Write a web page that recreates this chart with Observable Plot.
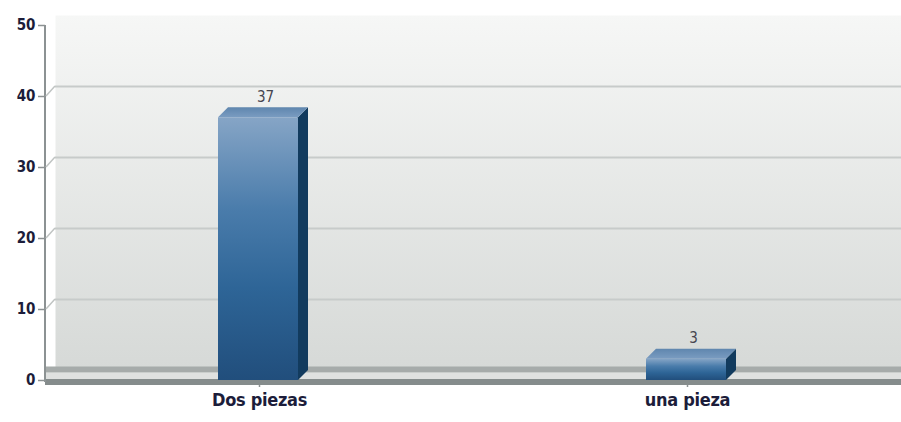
<!DOCTYPE html>
<html><head><meta charset="utf-8">
<script src="https://cdn.jsdelivr.net/npm/d3@7"></script>
<script src="https://cdn.jsdelivr.net/npm/@observablehq/plot@0.6"></script>
<style>
body{margin:0;background:#fff}
svg{display:block}
</style>
</head><body><div id="chart"></div>
<script>
const categories = ["Dos piezas", "una pieza"];
const values = [37, 3];
const yTicks = [0, 10, 20, 30, 40, 50];

const data = categories.map((c, i) => ({category: c, value: values[i]}));
const D = 10;          // 3D depth in px
const INSET_L = 173, INSET_R = 175;
const FONT = "'Liberation Sans Narrow','DejaVu Sans Condensed','Liberation Sans',sans-serif";
const gridTicks = yTicks.filter(t => t > 0 && t < 50);

const chart = Plot.plot({
  width: 901, height: 422,
  marginLeft: 45, marginRight: 0, marginTop: 25, marginBottom: 42,
  style: {background: "transparent", fontFamily: FONT, overflow: "visible"},
  x: {domain: categories, padding: 0, label: null, tickSize: 7, tickPadding: 6},
  y: {domain: [0, 50], ticks: yTicks, label: null, tickSize: 7, tickPadding: 3},
  marks: [
    Plot.frame({fill: "url(#bgGrad)", stroke: "none", strokeOpacity: 0, dx: D, dy: -D}),
    Plot.ruleY(gridTicks, {dx: D, dy: -D, stroke: "#c7cbca", strokeWidth: 2}),
    Plot.ruleY([0], {dy: -4, stroke: "#dfe1e0", strokeWidth: 8}),
    Plot.ruleY([0], {dy: -D - 1, stroke: "#a6abaa", strokeWidth: 6}),
    Plot.ruleY([0], {dy: 1.5, stroke: "#858c8c", strokeWidth: 6}),
    Plot.barY(data, {x: "category", y: "value", fill: "url(#barGrad)", insetLeft: INSET_L, insetRight: INSET_R}),
    Plot.text(data, {x: "category", y: "value", text: d => String(d.value), dx: 6, dy: -D - 6,
      lineAnchor: "bottom", fill: "#45454f", fontSize: 15, stroke: "none"})
  ]
});

const svg = d3.select(chart.tagName.toLowerCase() === "svg" ? chart : chart.querySelector("svg"));
const defs = svg.insert("defs", ":first-child");
const bg = defs.append("linearGradient").attr("id", "bgGrad").attr("x1", 0).attr("y1", 0).attr("x2", 0).attr("y2", 1);
bg.append("stop").attr("offset", "0%").attr("stop-color", "#f6f7f6");
bg.append("stop").attr("offset", "100%").attr("stop-color", "#d6d9d7");
const bgr = defs.append("linearGradient").attr("id", "barGrad").attr("x1", 0).attr("y1", 0).attr("x2", 0).attr("y2", 1);
bgr.append("stop").attr("offset", "0%").attr("stop-color", "#86a5c6");
bgr.append("stop").attr("offset", "35%").attr("stop-color", "#4a7cab");
bgr.append("stop").attr("offset", "65%").attr("stop-color", "#2e6597");
bgr.append("stop").attr("offset", "100%").attr("stop-color", "#214e7c");
const tg = defs.append("linearGradient").attr("id", "topGrad").attr("x1", 0).attr("y1", 0).attr("x2", 0).attr("y2", 1);
tg.append("stop").attr("offset", "0%").attr("stop-color", "#5f86ae");
tg.append("stop").attr("offset", "100%").attr("stop-color", "#7a9cc1");

// scales from the library
const sx = chart.scale("x"), sy = chart.scale("y");
const xs = sx.apply ? (v => sx.apply(v)) : (() => {
  const s = d3.scaleBand().domain(sx.domain).range(sx.range).paddingInner(sx.paddingInner || 0).paddingOuter(sx.paddingOuter || 0).align(sx.align ?? 0.5);
  return v => s(v);
})();
const bw = sx.bandwidth;
const ys = sy.apply ? (v => sy.apply(v)) : (() => {
  const s = d3.scaleLinear().domain(sy.domain).range(sy.range);
  return v => s(v);
})();

// axis line and wall joins
const x0 = 45;
const deco = svg.append("g");
deco.append("line").attr("x1", x0).attr("x2", x0).attr("y1", ys(50)).attr("y2", ys(0) + 2)
  .attr("stroke", "#8c9293").attr("stroke-width", 2);
gridTicks.forEach(t => {
  deco.append("line").attr("x1", x0 + 1).attr("y1", ys(t)).attr("x2", x0 + D).attr("y2", ys(t) - D)
    .attr("stroke", "#c0c4c3").attr("stroke-width", 1.5);
});

// 3D faces of bars
const barG = svg.select('g[aria-label="bar"]').node();
const faces = svg.insert("g", () => barG.nextSibling);
data.forEach(d => {
  const bx = xs(d.category) + INSET_L;
  const w = bw - INSET_L - INSET_R;
  const y0 = ys(d.value), y1 = ys(0);
  const r = bx + w;
  faces.append("polygon")
    .attr("points", [[r, y1], [r + D, y1 - D], [r + D, y0 - D], [r, y0]].map(p => p.join(",")).join(" "))
    .attr("fill", "#123b5e");
  faces.append("polygon")
    .attr("points", [[bx, y0], [bx + D, y0 - D], [r + D, y0 - D], [r, y0]].map(p => p.join(",")).join(" "))
    .attr("fill", "url(#topGrad)");
});

// axis text styling
svg.selectAll('g[aria-label="y-axis tick label"] text, g[aria-label="y-axis"] text')
  .attr("font-weight", "bold").attr("font-size", 15).attr("fill", "#1c1d3a");
svg.selectAll('g[aria-label="x-axis tick label"] text, g[aria-label="x-axis"] text')
  .attr("font-weight", "bold").attr("font-size", 18).attr("letter-spacing", -0.3).attr("fill", "#1c1d3a");
svg.selectAll('g[aria-label="y-axis tick"], g[aria-label="x-axis tick"]').attr("stroke", "#8c9293").attr("stroke-width", 1.5);

document.getElementById("chart").appendChild(chart);
</script>
</body></html>
